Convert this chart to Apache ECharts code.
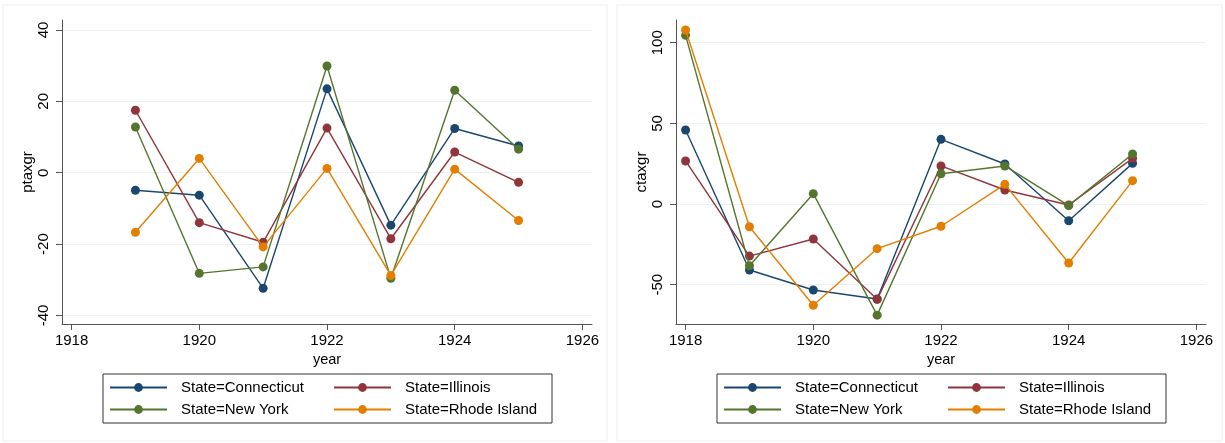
<!DOCTYPE html>
<html>
<head>
<meta charset="utf-8">
<script src="https://cdn.jsdelivr.net/npm/echarts@6/dist/echarts.min.js"></script>
<style>
html,body{margin:0;padding:0;background:#fff;}
#chart{width:1225px;height:443px;}
</style>
</head>
<body>
<div id="chart"></div>
<script>
// ---- data ----
const states = ['State=Connecticut', 'State=Illinois', 'State=New York', 'State=Rhode Island'];
const yearsP = [1919, 1920, 1921, 1922, 1923, 1924, 1925];
const ptaxCT = [-4.9, -6.3, -32.4, 23.5, -14.7, 12.4, 7.5];
const ptaxIL = [17.5, -14.0, -19.5, 12.5, -18.5, 5.8, -2.7];
const ptaxNY = [12.8, -28.2, -26.4, 29.9, -29.6, 23.1, 6.6];
const ptaxRI = [-16.7, 4.0, -20.8, 1.2, -28.8, 1.0, -13.4];

const yearsC = [1918, 1919, 1920, 1921, 1922, 1923, 1924, 1925];
const ctaxCT = [45.9, -40.9, -53.3, -58.9, 40.1, 24.8, -10.4, 25.2];
const ctaxIL = [26.7, -32.3, -21.7, -59.1, 23.6, 8.7, -0.6, 28.3];
const ctaxNY = [104.6, -38.3, 6.4, -68.9, 18.8, 23.6, -1.0, 31.0];
const ctaxRI = [107.9, -14.1, -62.8, -27.7, -13.8, 12.2, -36.6, 14.5];

const xTicks = [1918, 1920, 1922, 1924, 1926];
const pTicks = [-40, -20, 0, 20, 40];
const cTicks = [-50, 0, 50, 100];

const colors = ['#1a476f', '#90353b', '#55752f', '#e37e00'];
const FONT = 'Liberation Sans, Arial, Helvetica, sans-serif';

function pairs(xs, ys) { return xs.map((x, i) => [x, ys[i]]); }

const chart = echarts.init(document.getElementById('chart'), null, {renderer: 'canvas'});

function xAxis(gi) {
  return {
    type: 'value', gridIndex: gi, min: 1917.85, max: 1926.15,
    name: 'year', nameLocation: 'middle', nameGap: 27,
    nameTextStyle: {color: '#000', fontSize: 14.5, fontFamily: FONT},
    axisLine: {show: true, onZero: false, lineStyle: {color: '#555', width: 1}},
    axisTick: {show: true, length: 6, lineStyle: {color: '#555'}, customValues: xTicks},
    axisLabel: {color: '#000', fontSize: 15, fontFamily: FONT, margin: 9, customValues: xTicks,
      formatter: v => String(v)},
    splitLine: {show: false}
  };
}
function yAxis(gi, name, mn, mx, ticks) {
  return {
    type: 'value', gridIndex: gi, min: mn, max: mx,
    name: name, nameLocation: 'middle', nameGap: 25, nameRotate: 90,
    nameTextStyle: {color: '#000', fontSize: 15, fontFamily: FONT},
    axisLine: {show: true, onZero: false, lineStyle: {color: '#555', width: 1}},
    axisTick: {show: true, length: 6, lineStyle: {color: '#555'}, customValues: ticks},
    axisLabel: {color: '#000', fontSize: 15, fontFamily: FONT, margin: 11, rotate: 90, customValues: ticks,
      formatter: v => String(v)},
    splitLine: {show: true, lineStyle: {color: '#eaf2f3', width: 1}}
  };
}

const pSeries = [ptaxCT, ptaxIL, ptaxNY, ptaxRI];
const cSeries = [ctaxCT, ctaxIL, ctaxNY, ctaxRI];
const series = [];
pSeries.forEach((arr, i) => series.push({
  type: 'line', name: states[i], xAxisIndex: 0, yAxisIndex: 0,
  data: pairs(yearsP, arr), symbol: 'circle', symbolSize: 9, showSymbol: true,
  lineStyle: {color: colors[i], width: 1.4}, itemStyle: {color: colors[i]},
  animation: false, z: 2 + i
}));
cSeries.forEach((arr, i) => series.push({
  type: 'line', name: states[i], xAxisIndex: 1, yAxisIndex: 1,
  data: pairs(yearsC, arr), symbol: 'circle', symbolSize: 9, showSymbol: true,
  lineStyle: {color: colors[i], width: 1.4}, itemStyle: {color: colors[i]},
  animation: false, z: 2 + i
}));

function legend(left) {
  return {
    show: true, orient: 'horizontal', left: left, top: 374, width: 445,
    data: [states[0], states[1], states[2], states[3]],
    itemWidth: 57, itemHeight: 11, itemGap: 5,
    padding: [5, 0, 5, 6],
    borderColor: '#333', borderWidth: 1, borderRadius: 0,
    backgroundColor: '#fff',
    selectedMode: false,
    textStyle: {color: '#000', fontSize: 15, fontFamily: FONT, width: 147, lineHeight: 17,
      padding: [0, 0, 0, 9], overflow: 'none'}
  };
}

const option = {
  backgroundColor: '#fff',
  animation: false,
  color: colors,
  graphic: [
    {type: 'rect', shape: {x: 3, y: 5, width: 604, height: 436}, style: {fill: 'none', stroke: '#eeeeee', lineWidth: 1}, silent: true, z: -1},
    {type: 'rect', shape: {x: 617, y: 5, width: 605, height: 436}, style: {fill: 'none', stroke: '#eeeeee', lineWidth: 1}, silent: true, z: -1}
  ],
  grid: [
    {left: 62, top: 20, width: 530, height: 304, containLabel: false},
    {left: 676, top: 20, width: 530, height: 304, containLabel: false}
  ],
  xAxis: [xAxis(0), xAxis(1)],
  yAxis: [yAxis(0, 'ptaxgr', -42.4, 42.8, pTicks), yAxis(1, 'ctaxgr', -74.4, 114.1, cTicks)],
  legend: [legend(103), legend(717)],
  series: series
};
chart.setOption(option);
</script>
</body>
</html>
